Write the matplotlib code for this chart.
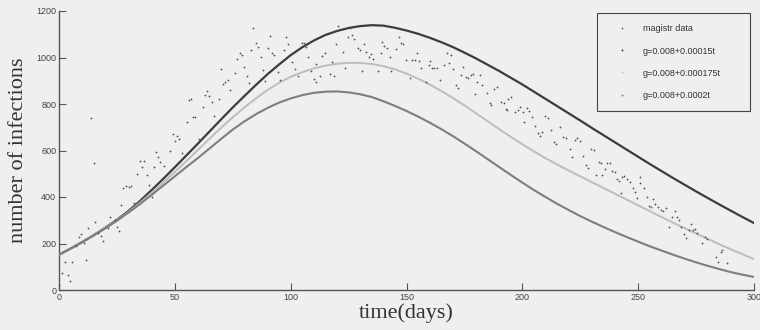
import matplotlib
matplotlib.use("Agg")
import matplotlib.pyplot as plt
from matplotlib.lines import Line2D

# ---- model curves (every 5 days) ----
curve_t = list(range(0, 301, 5))
g150 = [152, 178, 206, 236, 268, 302, 340, 383, 430, 478, 528, 579, 630, 682, 734, 785,
        834, 882, 928, 970, 1010, 1044, 1073, 1097, 1114, 1127, 1135, 1139, 1137, 1128, 1116,
        1102, 1085, 1066, 1045, 1021, 996, 969, 942, 913, 884, 853, 822, 791, 760, 729,
        697, 666, 635, 604, 573, 542, 512, 482, 453, 424, 396, 368, 341, 314, 288]
g175 = [152, 178, 206, 236, 267, 300, 336, 376, 418, 462, 508, 555, 603, 651, 698, 743,
        785, 824, 860, 891, 917, 937, 953, 965, 973, 977, 977, 972, 963, 949, 931,
        909, 884, 856, 826, 794, 760, 726, 692, 659, 627, 596, 567, 540, 514, 489,
        464, 439, 414, 389, 364, 339, 314, 290, 266, 243, 220, 197, 175, 154, 133]
g200 = [152, 178, 206, 235, 265, 298, 333, 370, 409, 449, 489, 529, 568, 609, 650, 690,
        725, 756, 783, 806, 824, 838, 848, 853, 854, 850, 842, 830, 812, 792, 770,
        746, 720, 692, 662, 630, 597, 563, 529, 495, 462, 430, 400, 371, 344, 318,
        294, 271, 249, 228, 208, 188, 170, 152, 135, 119, 104, 90, 77, 66, 56]

# ---- observed data (magistr data) ----
data_t = [0, 1.4, 3.7, 4.6, 2.6, 5.8, 11.7, 13.8, 15, 7.5, 8.6, 9.7, 10.6, 12.7, 15.5, 17, 18, 19,
          21, 22, 24, 25, 25.9, 26.8, 27.6, 28.8, 30, 31, 32.2, 33.7, 35, 36.8, 36, 38, 38.9, 40,
          40.9, 41.7, 42.7, 43.6, 45.2, 47.9, 49, 50.8, 51.7, 49.9, 53, 55.1, 56, 56.8, 58, 58.8,
          60.3, 62, 63, 63.7, 64.7, 65.9, 67, 68.9, 69.8, 70.8, 71.8, 72.9, 74, 75.8, 77, 78, 79,
          79.8, 81, 81.9, 83, 83.9, 85, 86, 87, 87.9, 89, 90, 91, 92, 93, 94.7, 95.5, 97, 98, 99,
          100.7, 101.9, 103, 104.7, 105.6, 106.7, 107.6, 108.8, 110, 111, 110.8, 112.5, 113.6,
          114.8, 116.8, 118.6, 117.7, 119.7, 120.5, 122.6, 123.4, 124.6, 125.6, 126.5, 127.4, 129,
          130, 130.6, 131.8, 132.6, 133.8, 134.7, 135.5, 137.7, 139.4, 140.5, 141.7, 138.8, 142.9,
          143.4, 145.4, 146.6, 147.7, 148.6, 149.8, 151.5, 152.4, 153.5, 154.4, 155.5, 156.4,
          158.4, 159.5, 160.1, 161, 162, 163, 164.4, 166.2, 167.5, 168.5, 169, 170.2, 171.3,
          172.2, 173.4, 174.5, 175.7, 176.5, 177.7, 178.5, 179.7, 180.5, 181.6, 182.4, 184.7,
          185.9, 186.4, 187.6, 189, 191, 192.2, 192.8, 194, 195, 193.4, 196.8, 198, 199.2, 200.3,
          200.6, 202, 202.9, 204.3, 205.4, 206.9, 207.7, 208.6, 209.8, 210.9, 212.3, 213.5,
          214.6, 216.4, 217.5, 218.7, 220.4, 221.5, 222.7, 223.6, 224.7, 226.4, 227.5, 228.3,
          229.7, 230.9, 231.8, 232.9, 233.8, 234.6, 235.8, 236.7, 237.8, 238.7, 239.8, 240.7,
          241.8, 243, 244.1, 245.3, 246.4, 242.4, 247.6, 248.5, 249.6, 251, 250.8, 252.5, 253.6,
          254.5, 255.4, 256.5, 257.4, 258.5, 259.7, 260.8, 262, 263.4, 264.6, 265.7, 266.9,
          267.7, 268.6, 269.7, 270.6, 271.8, 272.6, 273.5, 274.5, 275.5, 277.5, 278.7, 279.6,
          283.6, 284.4, 285.6, 286.4, 288.4]
data_v = [21, 72, 66, 40, 121, 121, 129, 741, 546, 191, 229, 241, 202, 267, 292, 245, 232, 210,
          266, 314, 300, 272, 255, 365, 440, 446, 444, 447, 375, 499, 556, 556, 530, 494, 451, 400,
          530, 595, 574, 552, 533, 599, 671, 662, 650, 642, 589, 724, 817, 822, 744, 744,
          651, 786, 839, 857, 834, 810, 748, 823, 949, 886, 895, 903, 860, 935, 995, 1019, 1010,
          961, 920, 889, 1032, 1127, 1064, 1047, 1001, 946, 900, 1041, 1092, 1019, 1011, 939, 903,
          1032, 1087, 1058, 982, 949, 920, 1062, 1062, 1044, 1003, 942, 907, 896, 971, 920, 1006,
          1018, 929, 922, 979, 1057, 1135, 1025, 953, 1090, 1125, 1097, 1079, 1042,
          1032, 942, 1058, 1025, 1004, 1015, 992, 943, 1067, 1048, 1039, 1018, 1001,
          943, 1035, 1087, 1064, 1058, 989, 910, 989, 989, 1018, 986, 953,
          896, 968, 986, 955, 955, 955, 903, 966, 1018, 975, 1010, 952, 882,
          868, 925, 958, 918, 912, 925, 929, 843, 896, 926, 880, 849,
          806, 796, 866, 872, 810, 803, 780, 821, 831, 774, 767, 774, 788, 767,
          724, 781, 768, 745, 705, 674, 662, 680, 748, 738, 688, 638,
          627, 700, 657, 654, 605, 571, 645, 652, 642, 576, 538, 523,
          605, 602, 495, 550, 545, 495, 522, 545, 545, 513, 509, 476,
          469, 485, 490, 476, 466, 419, 437, 423, 394, 462, 487, 437, 398,
          361, 358, 390, 370, 356, 344, 341, 351, 272, 315, 341, 313,
          301, 272, 241, 222, 258, 284, 259, 264, 247, 204, 227, 218,
          143, 122, 165, 172, 118]

x_ticks = [0, 50, 100, 150, 200, 250, 300]
y_ticks = [0, 200, 400, 600, 800, 1000, 1200]
legend_labels = ["magistr data", "g=0.008+0.00015t", "g=0.008+0.000175t", "g=0.008+0.0002t"]

bg = "#efefef"
c_data = "#505050"
c150 = "#3c3c3c"
c175 = "#bdbdbd"
c200 = "#7e7e7e"

fig = plt.figure(figsize=(7.6, 3.3), dpi=100, facecolor=bg)
W, H = 760, 330
ax = fig.add_axes([59 / W, (H - 290) / H, (754 - 59) / W, (290 - 11) / H], facecolor=bg)

ax.plot(curve_t, g150, color=c150, lw=1.6, zorder=3)
ax.plot(curve_t, g175, color=c175, lw=1.4, zorder=3)
ax.plot(curve_t, g200, color=c200, lw=1.5, zorder=3)
ax.plot(data_t, data_v, linestyle="none", marker="o", markersize=1.3,
        color=c_data, markeredgewidth=0, zorder=4)

ax.set_xlim(0, 300)
ax.set_ylim(0, 1200)
ax.set_xticks(x_ticks)
ax.set_yticks(y_ticks)
ax.set_xticklabels([str(v) for v in x_ticks], family="Liberation Sans", fontsize=6.5, color="#444444")
ax.set_yticklabels([str(v) for v in y_ticks], family="Liberation Sans", fontsize=6.5, color="#444444")
ax.tick_params(direction="in", length=5, width=0.8, color="#555555", pad=2)
for s in ["top", "right"]:
    ax.spines[s].set_visible(False)
for s in ["left", "bottom"]:
    ax.spines[s].set_color("#555555")
    ax.spines[s].set_linewidth(1.0)

ax.set_ylabel("number of infections", family="Liberation Serif", fontsize=16, color="#333333", labelpad=6)
ax.set_xlabel("time(days)", family="Liberation Serif", fontsize=16, color="#333333", labelpad=1)

handles = [
    Line2D([], [], linestyle="none", marker="o", markersize=1.2, color=c_data, markeredgewidth=0),
    Line2D([], [], linestyle="none", marker="o", markersize=1.4, color=c150, markeredgewidth=0),
    Line2D([], [], linestyle="none", marker="o", markersize=1.4, color=c175, markeredgewidth=0),
    Line2D([], [], linestyle="none", marker="o", markersize=1.4, color=c200, markeredgewidth=0),
]
leg = fig.legend(handles, legend_labels, loc="upper left",
                 bbox_to_anchor=(597 / W, (H - 16) / H, 153 / W, 0.01),
                 mode="expand", fancybox=False, framealpha=1, facecolor=bg,
                 edgecolor="#444444", prop={"family": "Liberation Sans", "size": 6.5},
                 labelspacing=1.45, borderpad=1.3, handlelength=2.9, handletextpad=0.9,
                 borderaxespad=0)
leg.get_frame().set_linewidth(0.8)
for t in leg.get_texts():
    t.set_color("#333333")

fig.savefig("out.png", dpi=100, facecolor=bg)
